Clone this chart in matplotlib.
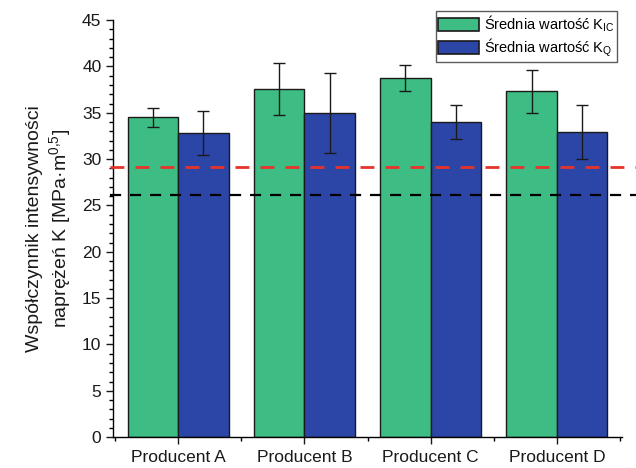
import numpy as np
import matplotlib.pyplot as plt
from matplotlib.ticker import MultipleLocator

plt.rcParams['font.family'] = ['Liberation Sans', 'DejaVu Sans']
plt.rcParams['mathtext.fontset'] = 'custom'
plt.rcParams['mathtext.rm'] = 'Liberation Sans'

# data
producers = ['Producent A', 'Producent B', 'Producent C', 'Producent D']
k_ic = [34.5, 37.6, 38.8, 37.3]
k_ic_err = [1.0, 2.8, 1.4, 2.3]
k_q = [32.8, 35.0, 34.0, 32.9]
k_q_err = [2.4, 4.3, 1.8, 2.9]
red_level = 29.1
black_level = 26.1

green = '#3dbd84'
blue = '#2c46a8'

fig = plt.figure(figsize=(6.36, 4.68), dpi=100)
ax = fig.add_axes([0.178, 0.066, 0.8, 0.891])

x = np.arange(len(producers))
w = 0.4
ax.bar(x - w / 2, k_ic, w, color=green, edgecolor='#1a1a1a', linewidth=1,
       label=r'Średnia wartość K$_{\mathrm{IC}}$', zorder=2)
ax.bar(x + w / 2, k_q, w, color=blue, edgecolor='#1a1a1a', linewidth=1,
       label=r'Średnia wartość K$_{\mathrm{Q}}$', zorder=2)
ax.errorbar(x - w / 2, k_ic, yerr=k_ic_err, fmt='none', ecolor='#1a1a1a',
            elinewidth=1, capsize=4, capthick=1, zorder=3)
ax.errorbar(x + w / 2, k_q, yerr=k_q_err, fmt='none', ecolor='#1a1a1a',
            elinewidth=1, capsize=4, capthick=1, zorder=3)

# reference levels, running past the right end of the axis
ax.axhline(red_level, xmin=-0.006, xmax=1.03, color='#e8332a', linestyle=(0, (5, 4)),
           linewidth=2, clip_on=False, zorder=4)
ax.axhline(black_level, xmin=-0.006, xmax=1.03, color='black', linestyle=(0, (5, 4)),
           linewidth=1.6, clip_on=False, zorder=4)

ax.set_xlim(-0.515, 3.515)
ax.set_ylim(0, 45)
ax.set_xticks(x)
ax.set_xticklabels(producers)
ax.xaxis.set_minor_locator(MultipleLocator(1, offset=0.5))
ax.yaxis.set_major_locator(MultipleLocator(5))
ax.yaxis.set_minor_locator(MultipleLocator(1))
ax.tick_params(axis='both', which='major', direction='out', length=5, width=1,
               labelsize=12.5, colors='#1a1a1a')
ax.tick_params(axis='both', which='minor', direction='out', length=3, width=1)
ax.tick_params(axis='x', which='major', pad=4)

for side in ['top', 'right']:
    ax.spines[side].set_visible(False)
for side in ['left', 'bottom']:
    ax.spines[side].set_linewidth(1)

ax.set_ylabel('Współczynnik intensywności\nnaprężeń K [MPa·m$^{0{,}5}$]',
              fontsize=14, labelpad=6, color='#1a1a1a')

leg = ax.legend(loc='upper right', bbox_to_anchor=(0.99, 1.022), fontsize=10.5,
                frameon=True, fancybox=False, edgecolor='#333333',
                handlelength=2.8, handleheight=1.0, borderpad=0.15,
                labelspacing=0.2, handletextpad=0.35, borderaxespad=0.0)
leg.get_frame().set_linewidth(1)
for p in leg.get_patches():
    p.set_edgecolor('#1a1a1a')
    p.set_linewidth(1.2)

fig.savefig('out.png', dpi=100)
